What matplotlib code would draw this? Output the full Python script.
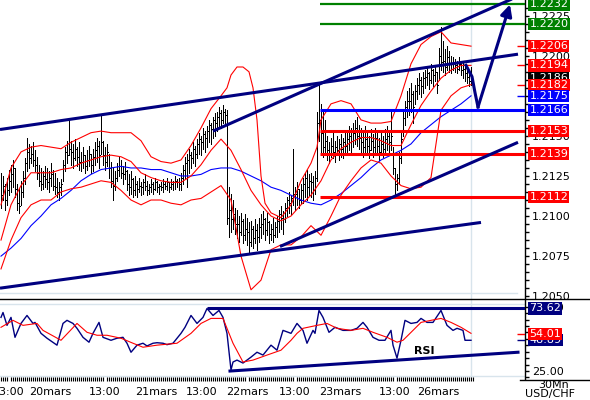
import matplotlib
matplotlib.use("Agg")
import matplotlib.pyplot as plt
import matplotlib.transforms as mtrans
from matplotlib.lines import Line2D
import numpy as np

plt.rcParams['font.family'] = 'DejaVu Sans'
plt.rcParams['font.size'] = 8

NAVY = '#000080'
RED = '#ff0000'
BLUE = '#0000ff'
GREEN = '#008000'
GRIDC = '#d8e4ec'

# --- 30 min bars, prices in pips above 1.2000 ---
bar_high = [127, 125, 120, 124, 129, 132, 135, 130, 120, 117, 122, 128, 136, 149, 145, 144, 146, 141,
            137, 132, 130, 128, 131, 130, 128, 133, 129, 127, 124, 121, 123, 135, 143, 147, 160,
            147, 145, 148, 143, 146, 140, 143, 138, 141, 144, 139, 142, 146, 149, 147, 163, 147, 143, 145,
            139, 134, 130, 128, 133, 137, 135, 131, 134, 129, 126, 128, 124,
            125, 122, 124, 121, 123, 126, 122, 120, 123, 121, 124, 122, 120, 121, 123, 122, 124, 121, 123,
            122, 125, 123, 124, 127, 132, 137, 139, 142, 140, 146, 144, 148, 152, 150, 155, 153,
            156, 160, 158, 162, 164, 165, 168, 166, 169, 167, 166, 118, 114, 110, 105, 104, 100, 102, 98, 101,
            99, 96, 97, 94, 98, 95, 99, 101, 103, 99, 102, 97, 95, 99, 96, 100, 104, 106, 103,
            108, 112, 115, 113, 142, 118, 121, 117, 120, 124, 127, 129, 126, 127, 125, 128, 165, 183,
            170, 165, 160, 150, 146, 149, 152, 147, 150, 148, 151, 149, 153, 153, 156, 155, 158, 160, 162, 157,
            155, 152, 156, 153, 150, 154, 151, 155, 152, 149, 153, 150, 154, 156, 152, 166, 143, 130, 126,
            140, 152, 165, 172, 178, 180, 183, 178, 182, 186, 189, 187, 190, 191, 193, 190, 195, 192, 194,
            190, 205, 218, 209, 204, 206, 203, 200, 199, 198, 197, 199, 196, 196, 195, 193, 191, 193]
bar_low = [105, 110, 104, 107, 113, 115, 118, 112, 104, 102, 107, 112, 120, 128, 130, 133, 131, 128,
           123, 119, 116, 117, 118, 117, 115, 119, 116, 114, 112, 110, 113, 122, 128, 133, 138,
           132, 130, 135, 131, 129, 128, 130, 127, 129, 131, 127, 128, 132, 134, 130, 139, 132, 129, 131,
           124, 118, 110, 116, 122, 125, 124, 120, 123, 116, 113, 114, 112,
           113, 112, 115, 113, 114, 116, 113, 114, 115, 114, 116, 115, 114, 116, 115, 117, 116, 115, 117,
           116, 117, 118, 116, 116, 120, 124, 118, 127, 130, 133, 131, 136, 139, 138, 142, 140,
           143, 146, 145, 149, 150, 153, 156, 155, 158, 157, 95, 87, 90, 92, 89, 86, 84, 88, 83, 85,
           82, 77, 81, 80, 83, 79, 84, 86, 89, 85, 88, 83, 85, 84, 87, 87, 90, 92, 89,
           96, 100, 102, 101, 107, 104, 107, 105, 108, 108, 112, 110, 113, 112, 110, 114, 122, 147,
           140, 137, 138, 135, 133, 137, 136, 134, 138, 135, 137, 136, 139, 139, 141, 140, 143, 145, 144, 142,
           139, 137, 140, 138, 136, 141, 137, 140, 138, 135, 139, 137, 140, 141, 138, 141, 126, 114, 116,
           120, 133, 150, 157, 162, 163, 165, 158, 170, 173, 176, 174, 177, 180, 182, 179, 183, 181, 184,
           177, 185, 191, 190, 188, 191, 190, 189, 191, 190, 189, 191, 188, 186, 184, 183, 181, 182]
bar_close = [113, 119, 110, 116, 122, 126, 130, 117, 108, 106, 115, 124, 133, 140, 136, 139, 135, 132,
             127, 122, 120, 125, 123, 121, 124, 126, 119, 118, 115, 118, 120, 132, 140, 138, 142,
             140, 136, 142, 137, 134, 134, 138, 131, 135, 139, 132, 137, 141, 144, 138, 146, 138, 134, 140,
             130, 122, 119, 124, 129, 131, 127, 126, 128, 120, 118, 123, 116,
             120, 117, 119, 118, 121, 119, 116, 118, 120, 117, 121, 118, 119, 118, 120, 119, 121, 118, 120,
             121, 122, 121, 120, 124, 129, 133, 135, 138, 136, 142, 139, 145, 148, 146, 151, 149,
             153, 157, 154, 160, 158, 162, 164, 160, 165, 163, 99, 104, 98, 101, 95, 95, 90, 97, 88, 92,
             90, 84, 92, 86, 91, 87, 93, 95, 98, 91, 96, 89, 92, 88, 93, 97, 101, 99, 98,
             105, 110, 108, 111, 114, 114, 117, 110, 116, 120, 124, 118, 122, 121, 116, 124, 158, 160,
             152, 143, 147, 141, 139, 144, 140, 143, 141, 145, 142, 146, 144, 148, 150, 147, 152, 155, 150, 149,
             146, 143, 148, 144, 141, 147, 143, 149, 144, 140, 145, 142, 148, 150, 146, 150, 130, 120, 124,
             136, 148, 161, 168, 172, 172, 176, 168, 178, 182, 185, 181, 186, 187, 189, 185, 191, 188, 190,
             182, 200, 196, 197, 193, 199, 195, 192, 196, 194, 192, 195, 191, 192, 189, 187, 184, 186]

# Bollinger bands and moving average (bar, pips)
bb_up_bars = [0, 5, 10, 15, 20, 25, 30, 35, 40, 45, 50, 55, 60, 65, 70, 75, 80, 85, 90, 95, 100, 105, 110,
              113, 115, 118, 121, 124, 126, 128, 130, 132, 135, 140, 145, 150, 155, 158, 160, 165, 170, 175,
              180, 185, 190, 195, 200, 205, 210, 215, 220, 225, 230, 235]
bb_up = [107, 130, 140, 143, 144, 143, 142, 146, 149, 152, 153, 152, 152, 152, 147, 137, 134, 133, 135, 144,
         155, 167, 175, 180, 188, 193, 193, 190, 180, 160, 125, 108, 102, 99, 107, 122, 133, 143, 160, 170,
         172, 170, 160, 158, 158, 159, 175, 195, 207, 212, 215, 208, 207, 206]
band_bars = list(range(0, 236, 5))
bb_mid = [85, 107, 119, 127, 127, 127, 129, 130, 133, 135, 137, 138, 137, 134, 127, 124, 122, 121, 121, 125,
          132, 141, 148, 141, 129, 116, 107, 100, 97, 100, 107, 113, 122, 135, 142, 146, 149, 149, 147, 144,
          144, 157, 169, 178, 186, 191, 194, 194]
bb_low = [67, 85, 99, 107, 110, 110, 115, 117, 118, 120, 122, 121, 116, 110, 107, 110, 110, 108, 107, 110,
          111, 115, 119, 110, 75, 54, 60, 79, 82, 82, 87, 94, 88, 100, 113, 122, 130, 135, 133, 125,
          119, 117, 118, 124, 166, 175, 180, 182]
ma_blue = [75, 80, 86, 94, 100, 107, 111, 116, 122, 126, 129, 130, 131, 130, 130, 129, 129, 127, 125, 125,
           126, 129, 130, 130, 128, 125, 122, 118, 116, 113, 110, 108, 107, 110, 114, 119, 124, 130, 135, 138,
           141, 145, 152, 157, 162, 166, 170, 175]

# RSI and its average (bar, value)
rsi_bars = [0, 1, 3, 5, 7, 10, 13, 16, 17, 20, 23, 28, 31, 33, 36, 38, 41, 44, 46, 49, 51, 55, 58, 61, 63,
            65, 68, 71, 73, 76, 78, 81, 83, 86, 90, 92, 95, 98, 101, 103, 106, 109, 111, 113, 115, 116, 118,
            121, 125, 128, 131, 135, 138, 141, 145, 148, 151, 153, 156, 157, 159, 161, 164, 167, 171, 175,
            178, 181, 183, 186, 189, 192, 195, 196, 198, 200, 202, 205, 208, 210, 213, 216, 220, 221, 223,
            226, 228, 231, 232, 235]
rsi = [66.7, 70.5, 60.5, 66.7, 51.2, 62.0, 68.2, 62.0, 62.8, 54.3, 50.5, 45.1, 62.0, 64.4, 62.0, 58.2,
       51.2, 47.4, 54.3, 62.8, 51.2, 48.9, 50.5, 51.2, 46.6, 39.6, 45.1, 46.6, 44.5, 46.6, 47.0, 46.6, 45.5,
       46.6, 54.3, 59.0, 68.2, 62.0, 66.7, 73.6, 68.2, 72.1, 66.7, 54.3, 25.8, 32.0, 33.5, 31.2, 35.8, 39.6,
       37.4, 45.1, 41.2, 56.6, 54.3, 62.0, 56.6, 46.6, 56.6, 54.3, 72.1, 66.7, 55.1, 59.0, 56.6, 56.6, 58.2,
       62.8, 59.0, 51.2, 48.9, 48.9, 56.6, 45.1, 35.0, 48.9, 64.4, 62.0, 62.8, 65.9, 62.8, 62.8, 72.1, 68.2,
       60.5, 56.6, 58.2, 56.6, 48.9, 48.9]
rsi_ma_bars = [0, 6, 11, 18, 21, 30, 38, 43, 48, 53, 60, 66, 71, 78, 88, 95, 100, 105, 111, 116, 121, 126,
               133, 140, 145, 148, 151, 158, 163, 168, 175, 181, 186, 193, 198, 201, 206, 210, 215, 220, 225,
               230, 235]
rsi_ma = [59.0, 64.4, 60.5, 62.0, 56.6, 48.9, 62.0, 55.1, 52.8, 52.8, 50.5, 46.6, 43.5, 45.1, 46.6, 54.3,
          62.0, 65.9, 65.9, 46.6, 32.0, 33.5, 37.4, 41.2, 48.9, 54.3, 58.2, 60.5, 62.0, 58.2, 56.6, 58.2, 55.1,
          51.2, 47.4, 48.9, 56.6, 62.8, 64.4, 65.9, 62.8, 59.0, 54.3]

# drawn objects
levels = [1.2232, 1.2220, 1.2166, 1.2153, 1.2139, 1.2112]
level_colors = [GREEN, GREEN, BLUE, RED, RED, RED]
trend_lines = [((-0.5, 1.2154), (258.5, 1.2201)),
               ((106.0, 1.2153), (256.5, 1.2236)),
               ((-0.5, 1.2055), (240.0, 1.2096)),
               ((139.5, 1.2081), (258.5, 1.2146))]
arrow_path_bars = [232.5, 235.5, 237.0, 238.5]
arrow_path_price = [1.2194, 1.2187, 1.2177, 1.2168]
arrow_tip = (254.5, 1.2232)
rsi_resist = 73.62
rsi_support = ((114.5, 25.0), (258.5, 39.6))

price_tags = [(1.2232, '1.2232', GREEN), (1.2220, '1.2220', GREEN), (1.2206, '1.2206', RED),
              (1.2186, '1.2186', 'black'), (1.2194, '1.2194', RED), (1.2182, '1.2182', RED),
              (1.2175, '1.2175', BLUE), (1.2166, '1.2166', BLUE), (1.2153, '1.2153', RED),
              (1.2139, '1.2139', RED), (1.2112, '1.2112', RED)]
rsi_tags = [(73.62, '73.62', NAVY), (48.89, '48.89', NAVY), (54.01, '54.01', RED)]

date_pos = [4, 24.5, 52, 77.5, 100.5, 123, 147, 169.5, 197, 218.5]
date_lbl = ['13:00', '20mars', '13:00', '21mars', '13:00', '22mars', '13:00', '23mars', '13:00', '26mars']


def p(v):
    return 1.2 + np.asarray(v, dtype=float) / 10000.0


W, H = 590.0, 400.0
fig = plt.figure(figsize=(W / 100, H / 100), dpi=100)
ax = fig.add_axes([0, 1 - 298.5 / H, 525 / W, 298.5 / H])
ax_rsi = fig.add_axes([0, 1 - 379 / H, 525 / W, 79.5 / H])

for a in (ax, ax_rsi):
    a.set_xlim(-0.5, 262)
    for s in ('left', 'top', 'bottom'):
        a.spines[s].set_visible(False)
    a.spines['right'].set_linewidth(1.0)
    a.axvline(235, color=GRIDC, lw=1, zorder=0)

ax.set_ylim(1.204855, 1.22348)
ax_rsi.set_ylim(18.8, 80.6)

# light frame lines
ax.axhline(1.20519, xmax=517 / 525, color=GRIDC, lw=1, zorder=0)
ax_rsi.axhline(77.3, color=GRIDC, lw=1, zorder=0)
ax_rsi.axhline(21.2, color=GRIDC, lw=1, zorder=0)

n = min(len(bar_high), len(bar_low), len(bar_close))
idx = np.arange(n)
hi, lo, cl = p(bar_high[:n]), p(bar_low[:n]), p(bar_close[:n])

# one pixel wide bars with a close nub on the right
ax.vlines(idx, lo, hi, color='black', lw=0.72, zorder=3, antialiased=False)
ax.hlines(cl, idx, idx + 0.5, color='black', lw=0.72, zorder=3, antialiased=False)

ax.plot(band_bars, p(ma_blue), color=BLUE, lw=0.8, zorder=4)
ax.plot(bb_up_bars, p(bb_up), color=RED, lw=0.8, zorder=4)
ax.plot(band_bars, p(bb_mid), color=RED, lw=0.8, zorder=4)
ax.plot(band_bars, p(bb_low), color=RED, lw=0.8, zorder=4)

for lv, c in zip(levels, level_colors):
    ax.hlines(lv, 159.5, 262, color=c, lw=1.6 if c == GREEN else 2.2, zorder=5)

for (x0, y0), (x1, y1) in trend_lines:
    ax.plot([x0, x1], [y0, y1], color=NAVY, lw=2.2, solid_capstyle='butt', zorder=6)

ax.plot(arrow_path_bars, arrow_path_price, color=NAVY, lw=2.2, zorder=6)
ax.annotate('', xy=arrow_tip, xytext=(arrow_path_bars[-1], arrow_path_price[-1]),
            arrowprops=dict(arrowstyle='-|>', color=NAVY, lw=2.2, mutation_scale=17,
                            shrinkA=0, shrinkB=0), zorder=6)

# small value markers next to the scale
for v, c in [(1.2206, RED), (1.2194, RED), (1.2182, RED), (1.2175, BLUE)]:
    ax.hlines(v, 258, 262, color=c, lw=1, zorder=6)
for v, c in [(54.01, RED), (48.89, NAVY)]:
    ax_rsi.hlines(v, 258, 262, color=c, lw=1, zorder=6)

# price scale
ax.yaxis.tick_right()
ax.set_yticks(np.arange(1.2050, 1.2230, 0.0025))
ax.set_yticks(np.arange(1.2050, 1.2235, 0.0005), minor=True)
ax.yaxis.set_major_formatter(plt.FormatStrFormatter('%.4f'))
ax.tick_params(axis='y', which='both', length=3, width=1, pad=2, labelsize=8)
ax.set_xticks([])

# RSI panel
ax_rsi.plot(rsi_bars, rsi, color=NAVY, lw=1.0, zorder=4)
ax_rsi.plot(rsi_ma_bars, rsi_ma, color=RED, lw=0.8, zorder=4)
ax_rsi.hlines(rsi_resist, 103, 262, color=NAVY, lw=2.2, zorder=5)
(sx0, sy0), (sx1, sy1) = rsi_support
ax_rsi.plot([sx0, sx1], [sy0, sy1], color=NAVY, lw=2.2, zorder=5)
ax_rsi.text(211.5, 40.4, 'RSI', fontsize=8, fontweight='bold', ha='center', va='center')

ax_rsi.yaxis.tick_right()
ax_rsi.set_yticks([25, 50, 75])
ax_rsi.set_yticks(np.arange(20, 80, 5), minor=True)
ax_rsi.yaxis.set_major_formatter(plt.FormatStrFormatter('%.2f'))
ax_rsi.tick_params(axis='y', which='both', length=3, width=1, pad=2, labelsize=8)

ax_rsi.set_xticks(date_pos)
ax_rsi.set_xticklabels(date_lbl)
ax_rsi.set_xticks(np.arange(0, 237), minor=True)
ax_rsi.tick_params(axis='x', which='major', length=0, pad=6, labelsize=8)
ax_rsi.tick_params(axis='x', which='minor', length=3, width=0.8, direction='inout')

# value boxes on the scale
bx = 529.5 / W
for a, tags in ((ax, price_tags), (ax_rsi, rsi_tags)):
    tr = mtrans.blended_transform_factory(fig.transFigure, a.transData)
    for v, t, c in tags:
        a.text(bx, v, t, transform=tr, color='white', fontsize=8, va='center', ha='left',
               zorder=10, clip_on=False, bbox=dict(boxstyle='square,pad=0.1', fc=c, ec='none'))

# separators
fig.add_artist(Line2D([0, 1], [1 - 298.5 / H] * 2, color='black', lw=1))
fig.add_artist(Line2D([520 / W, 1], [1 - 380 / H] * 2, color='black', lw=1))

fig.text(554 / W, 1 - 384.5 / H, '30Mn', ha='center', va='center', fontsize=8)
fig.text(550 / W, 1 - 393.5 / H, 'USD/CHF', ha='center', va='center', fontsize=8)

fig.savefig('out.png', dpi=100)
